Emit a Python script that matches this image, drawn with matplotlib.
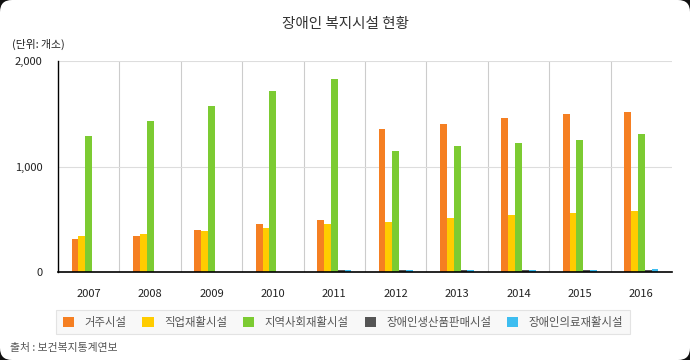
import matplotlib.pyplot as plt
from matplotlib.patches import FancyBboxPatch
from matplotlib.ticker import FuncFormatter
import numpy as np

plt.rcParams['font.family'] = ['Noto Sans CJK KR', 'DejaVu Sans']

years = ['2007', '2008', '2009', '2010', '2011', '2012', '2013', '2014', '2015', '2016']
residential = [315, 341, 398, 455, 493, 1352, 1399, 1462, 1493, 1512]
vocational = [341, 360, 389, 417, 455, 475, 515, 544, 560, 578]
community = [1289, 1431, 1573, 1716, 1829, 1144, 1191, 1220, 1248, 1305]
products = [0, 0, 0, 0, 15, 17, 18, 18, 18, 18]
medical = [0, 0, 0, 0, 17, 17, 17, 17, 17, 29]

labels = ['거주시설', '직업재활시설', '지역사회재활시설', '장애인생산품판매시설', '장애인의료재활시설']
colors = ['#F57F22', '#FFCC00', '#7CCB32', '#555555', '#3DBDF0']
series = [residential, vocational, community, products, medical]

fig = plt.figure(figsize=(6.9, 3.6), dpi=100, facecolor='#111111')
bg = FancyBboxPatch((0.0, 0.0), 6.9, 3.6, boxstyle='round,pad=0,rounding_size=0.12',
                    transform=fig.dpi_scale_trans, facecolor='white', edgecolor='none', zorder=-5)
fig.patches.append(bg)

ax = fig.add_axes([58 / 690, 1 - 272 / 360, (672 - 58) / 690, (272 - 61) / 360])
ax.set_facecolor('none')
ax.set_zorder(2)

x = np.arange(len(years))
w = 0.112
for i, (vals, c, lab) in enumerate(zip(series, colors, labels)):
    ax.bar(x + (i - 2) * w, vals, width=w, color=c, label=lab, zorder=3, linewidth=0)

ax.set_xlim(-0.5, len(years) - 0.5)
ax.set_ylim(0, 2000)
ax.set_yticks([0, 1000, 2000])
ax.yaxis.set_major_formatter(FuncFormatter(lambda v, p: f'{int(v):,}'))
ax.set_xticks(x)
ax.set_xticklabels(years)
ax.tick_params(axis='both', length=0, labelsize=8, colors='#222222')
ax.tick_params(axis='x', pad=12)
ax.tick_params(axis='y', pad=11)

for b in np.arange(0.5, len(years) - 1, 1):
    ax.axvline(b, color='#CCCCCC', linewidth=0.8, zorder=1)
for h in [1000, 2000]:
    ax.axhline(h, color='#DDDDDD', linewidth=0.8, zorder=1)

for s in ['top', 'right']:
    ax.spines[s].set_visible(False)
ax.spines['left'].set_color('black')
ax.spines['bottom'].set_color('black')
ax.spines['left'].set_linewidth(1.0)
ax.spines['bottom'].set_linewidth(1.2)
ax.spines['bottom'].set_zorder(4)

fig.text(0.5, 1 - 24 / 360, '장애인 복지시설 현황', ha='center', va='center', fontsize=10.5, color='#333333')
fig.text(12 / 690, 1 - 44 / 360, '(단위: 개소)', ha='left', va='center', fontsize=7.8, color='#222222')
fig.text(10 / 690, 1 - 348 / 360, '출처 : 보건복지통계연보', ha='left', va='center', fontsize=7.8, color='#555555')

leg = fig.legend(loc='center', bbox_to_anchor=(343 / 690, 1 - 322 / 360), ncol=5, frameon=True,
                 fancybox=False, fontsize=8.2, handlelength=1.0, handleheight=1.0,
                 handletextpad=0.9, columnspacing=1.4, borderpad=0.6)
leg.get_frame().set_facecolor('#F7F7F7')
leg.get_frame().set_edgecolor('#DDDDDD')
leg.get_frame().set_linewidth(0.8)
for t in leg.get_texts():
    t.set_color('#555555')

fig.savefig('out.png', dpi=100, facecolor=fig.get_facecolor())
